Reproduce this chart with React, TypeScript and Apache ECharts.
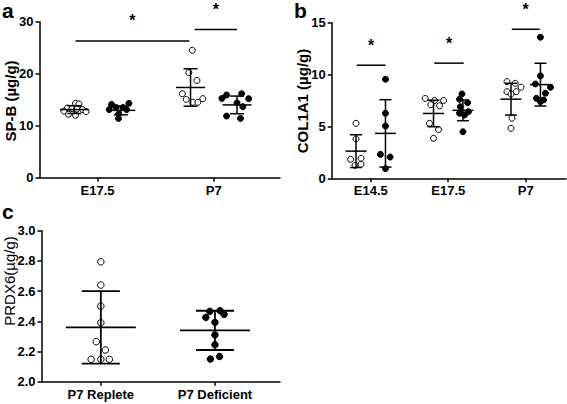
import React, { useEffect, useRef } from "react";
import * as echarts from "echarts";

// ---------- Panel a: SP-B ----------
const aCategories = ["E17.5", "P7"];
const aOpenValues = [
  [14.3, 14.2, 13.4, 13.3, 13.2, 13.1, 12.8, 12.7, 12.2, 12.0],
  [24.5, 20.2, 18.7, 16.15, 15.06, 15.2, 14.5, 14.5],
];
const aOpenJitter = [
  [0.01, 0.04, -0.06, -0.02, 0.02, 0.07, -0.09, 0.1, -0.05, 0.01],
  [0.015, -0.015, 0.055, -0.07, -0.037, 0.106, 0.02, 0.063],
];
const aFilledValues = [
  [14.1, 14.3, 13.5, 13.5, 13.1, 13.1, 12.2, 11.4],
  [15.9, 16.15, 15.25, 15.2, 14.4, 13.65, 11.85, 11.4],
];
const aFilledJitter = [
  [-0.08, 0.07, -0.04, 0.02, -0.1, 0.05, -0.02, -0.02],
  [-0.09, 0.04, -0.13, 0.1, 0, 0.05, -0.09, 0.03],
];
const aOpenMean = [13.1, 17.35];
const aOpenSd = [0.75, 3.6];
const aFilledMean = [12.95, 14.0];
const aFilledSd = [0.85, 1.7];
const aSig = [
  [-0.19, 0.79, 26.3],
  [0.835, 1.2, 28.5],
];
const aYTicks = { min: 0, max: 30, interval: 10 };

// ---------- Panel b: COL1A1 ----------
const bCategories = ["E14.5", "E17.5", "P7"];
const bOpenValues = [
  [5.3, 3.8, 1.83, 1.93, 1.25, 1.35],
  [7.7, 7.5, 7.5, 7.1, 7.0, 5.3, 4.7, 3.85],
  [9.32, 9.16, 8.78, 8.35, 8.35, 8.13, 5.79, 4.82],
];
const bOpenJitter = [
  [0, 0, -0.07, 0.065, -0.013, 0.065],
  [-0.107, 0.013, 0.13, -0.034, 0.078, -0.052, 0.065, 0],
  [-0.052, 0.054, 0.13, -0.052, 0.067, 0, 0.013, 0],
];
const bFilledValues = [
  [9.55, 6.27, 5.04, 2.31, 2.05, 0.93],
  [8.13, 7.62, 7.29, 6.9, 6.42, 6.27, 6.1, 4.49],
  [13.6, 9.87, 9.09, 8.78, 8.2, 7.71, 7.39, 7.55],
];
const bFilledJitter = [
  [0, 0, 0, -0.065, 0.06, 0],
  [-0.013, -0.044, 0.06, -0.035, 0.072, -0.044, 0.02, 0],
  [0, 0, -0.065, 0.13, 0.065, -0.052, 0, 0.04],
];
const bOpenMean = [2.62, 6.25, 7.63];
const bOpenSd = [1.58, 1.28, 1.53];
const bFilledMean = [4.33, 6.55, 9.03];
const bFilledSd = [3.25, 1.0, 2.06];
const bSig = [
  [-0.18, 0.19, 10.9],
  [0.82, 1.2, 11.1],
  [1.82, 2.18, 14.37],
];
const bYTicks = { min: 0, max: 15, interval: 5 };

// ---------- Panel c: PRDX6 ----------
const cCategories = ["P7 Replete", "P7 Deficient"];
const cRepleteValues = [2.794, 2.64, 2.5, 2.39, 2.265, 2.21, 2.148, 2.148, 2.148];
const cRepleteJitter = [0, 0, 0, 0, -0.04, 0.04, -0.085, 0, 0.075];
const cDeficientValues = [2.466, 2.47, 2.446, 2.426, 2.393, 2.31, 2.245, 2.15, 2.167];
const cDeficientJitter = [-0.045, 0.045, 0.08, -0.08, 0, 0, 0, -0.04, 0.04];
const cMean = [2.36, 2.34];
const cSd = [0.24, 0.13];
const cYTicks = { min: 2.0, max: 3.0, interval: 0.2 };

const FONT = "'Liberation Sans', Arial, sans-serif";
const BLACK = "#000";

function pointsFor(values: number[][], jitter: number[][], offset: number) {
  const out: number[][] = [];
  values.forEach((grp, ci) =>
    grp.forEach((v, i) => out.push([ci + offset + jitter[ci][i], v]))
  );
  return out;
}

function scatter(idx: number, data: number[][], filled: boolean, size: number) {
  return {
    type: "scatter",
    xAxisIndex: idx,
    yAxisIndex: idx,
    data,
    symbol: "circle",
    symbolSize: size,
    z: 2,
    itemStyle: filled
      ? { color: BLACK, borderColor: BLACK, borderWidth: 1, opacity: 1 }
      : { color: "#fff", borderColor: BLACK, borderWidth: 1, opacity: 1 },
    emphasis: { disabled: true },
  };
}

function errorBars(idx: number, data: number[][], meanHalf: number, capHalf: number, lw: number) {
  return {
    type: "custom",
    xAxisIndex: idx,
    yAxisIndex: idx,
    data,
    z: 3,
    silent: true,
    renderItem: (_p: any, api: any) => {
      const x = api.value(0);
      const m = api.value(1);
      const s = api.value(2);
      const c = api.coord([x, m]);
      const t = api.coord([x, m + s]);
      const b = api.coord([x, m - s]);
      const st = { stroke: BLACK, lineWidth: lw };
      return {
        type: "group",
        children: [
          { type: "line", shape: { x1: c[0] - meanHalf, y1: c[1], x2: c[0] + meanHalf, y2: c[1] }, style: st },
          { type: "line", shape: { x1: t[0], y1: t[1], x2: b[0], y2: b[1] }, style: st },
          { type: "line", shape: { x1: t[0] - capHalf, y1: t[1], x2: t[0] + capHalf, y2: t[1] }, style: st },
          { type: "line", shape: { x1: b[0] - capHalf, y1: b[1], x2: b[0] + capHalf, y2: b[1] }, style: st },
        ],
      };
    },
  };
}

function sigSeries(idx: number, data: number[][]) {
  return {
    type: "custom",
    xAxisIndex: idx,
    yAxisIndex: idx,
    data,
    z: 3,
    silent: true,
    clip: false,
    renderItem: (_p: any, api: any) => {
      const x1 = api.value(0);
      const x2 = api.value(1);
      const y = api.value(2);
      const p1 = api.coord([x1, y]);
      const p2 = api.coord([x2, y]);
      return {
        type: "group",
        children: [
          { type: "line", shape: { x1: p1[0], y1: p1[1], x2: p2[0], y2: p2[1] }, style: { stroke: BLACK, lineWidth: 1.5 } },
          {
            type: "text",
            x: (p1[0] + p2[0]) / 2,
            y: p1[1] - 20,
            style: {
              text: "*",
              fill: BLACK,
              font: `bold 16px ${FONT}`,
              textAlign: "center",
              textVerticalAlign: "middle",
            },
          },
        ],
      };
    },
  };
}

function xAxis(idx: number, cats: string[], min: number, max: number) {
  const vals = cats.map((_, i) => i);
  return {
    type: "value",
    gridIndex: idx,
    min,
    max,
    axisLine: { show: true, onZero: false, lineStyle: { color: BLACK, width: 1.5 } },
    splitLine: { show: false },
    axisTick: { show: true, customValues: vals, length: 4, lineStyle: { color: BLACK, width: 1.5 } },
    axisLabel: {
      customValues: vals,
      formatter: (v: number) => cats[Math.round(v)] ?? "",
      color: BLACK,
      fontWeight: "bold",
      fontSize: 13,
      fontFamily: FONT,
      margin: 6,
    },
  };
}

function yAxis(idx: number, t: { min: number; max: number; interval: number }, decimals: number) {
  return {
    type: "value",
    gridIndex: idx,
    min: t.min,
    max: t.max,
    interval: t.interval,
    axisLine: { show: true, onZero: false, lineStyle: { color: BLACK, width: 1.5 } },
    splitLine: { show: false },
    axisTick: { show: true, length: 4, lineStyle: { color: BLACK, width: 1.5 } },
    axisLabel: {
      color: BLACK,
      fontWeight: "bold",
      fontSize: 13,
      fontFamily: FONT,
      margin: 6,
      formatter: (v: number) => v.toFixed(decimals),
    },
  };
}

function rotatedTitle(text: string, x: number, y: number, weight: string) {
  return {
    type: "text",
    x,
    y,
    rotation: Math.PI / 2,
    style: {
      text,
      fill: BLACK,
      font: `${weight} 15px ${FONT}`,
      textAlign: "center",
      textVerticalAlign: "middle",
    },
  };
}

function letter(text: string, x: number, y: number) {
  return {
    type: "text",
    x,
    y,
    style: { text, fill: BLACK, font: `bold 21px ${FONT}`, textAlign: "left", textVerticalAlign: "middle" },
  };
}

export default function App() {
  const ref = useRef<HTMLDivElement>(null);
  useEffect(() => {
    document.body.style.margin = "0";
    if (!ref.current) return;
    const chart = echarts.init(ref.current, null, { renderer: "svg" });
    const off = 0.2;
    const bOff = 0.19;
    const option = {
      animation: false,
      backgroundColor: "#fff",
      grid: [
        { left: 39.5, top: 21.7, width: 240.5, height: 156 },
        { left: 331.7, top: 22.7, width: 234.3, height: 155.6 },
        { left: 41.5, top: 230.7, width: 238.5, height: 151 },
      ],
      xAxis: [
        xAxis(0, aCategories, -0.5, 1.57),
        xAxis(1, bCategories, -0.504, 2.52),
        xAxis(2, cCategories, -0.52, 1.57),
      ],
      yAxis: [yAxis(0, aYTicks, 0), yAxis(1, bYTicks, 0), yAxis(2, cYTicks, 1)],
      graphic: [
        rotatedTitle("SP-B (\u00b5g/g)", 10, 101, "bold"),
        rotatedTitle("COL1A1 (\u00b5g/g)", 302.5, 101, "bold"),
        rotatedTitle("PRDX6(\u00b5g/g)", 9, 281, "normal"),
        letter("a", 2, 10),
        letter("b", 294, 10),
        letter("c", 2, 211),
      ],
      series: [
        scatter(0, pointsFor(aOpenValues, aOpenJitter, -off), false, 6),
        scatter(0, pointsFor(aFilledValues, aFilledJitter, off), true, 6),
        errorBars(0, aOpenMean.map((m, i) => [i - off, m, aOpenSd[i]]), 14.5, 7, 1.5),
        errorBars(0, aFilledMean.map((m, i) => [i + off, m, aFilledSd[i]]), 14.5, 7, 1.5),
        sigSeries(0, aSig),

        scatter(1, pointsFor(bOpenValues, bOpenJitter, -bOff), false, 6),
        scatter(1, pointsFor(bFilledValues, bFilledJitter, bOff), true, 6),
        errorBars(1, bOpenMean.map((m, i) => [i - bOff, m, bOpenSd[i]]), 10.5, 6, 1.5),
        errorBars(1, bFilledMean.map((m, i) => [i + bOff, m, bFilledSd[i]]), 10.5, 6, 1.5),
        sigSeries(1, bSig),

        scatter(2, cRepleteValues.map((v, i) => [0 + cRepleteJitter[i], v]), false, 6.5),
        scatter(2, cDeficientValues.map((v, i) => [1 + cDeficientJitter[i], v]), true, 6.5),
        errorBars(2, cMean.map((m, i) => [i, m, cSd[i]]), 35, 19, 1.8),
      ],
    };
    chart.setOption(option as any);
    return () => chart.dispose();
  }, []);
  return <div ref={ref} style={{ width: 567, height: 404 }} />;
}
